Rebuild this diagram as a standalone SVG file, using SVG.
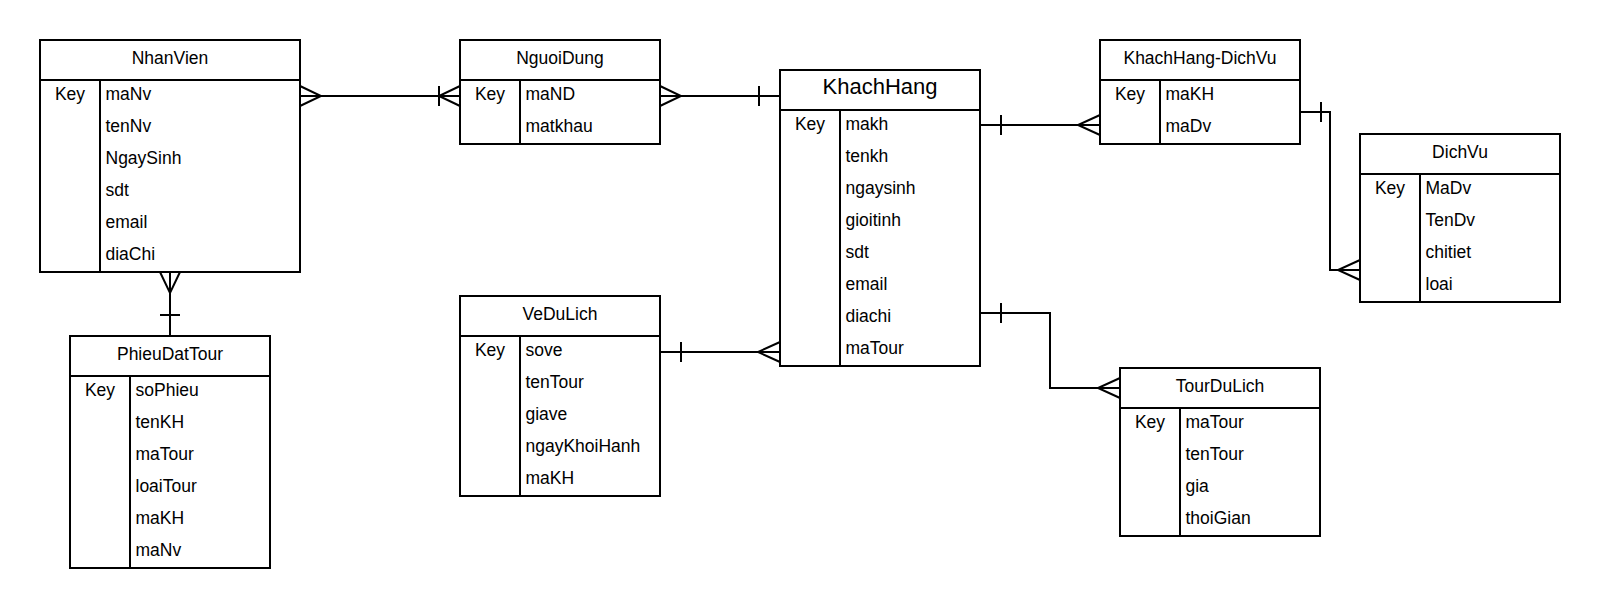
<svg xmlns="http://www.w3.org/2000/svg" width="1600" height="608" viewBox="0 0 1600 608">
<style>
.bg{fill:#fff}
.box{fill:#fff;stroke:#000;stroke-width:2}
.ln{fill:none;stroke:#000;stroke-width:2}
.t{font-family:"Liberation Sans",Arial,sans-serif;font-size:17.5px;fill:#000}
.c{text-anchor:middle}
.big{font-size:22px}
</style>
<rect class="bg" x="0" y="0" width="1600" height="608"/>

<g id="NhanVien">
<rect class="box" x="40" y="40" width="260" height="232"/>
<path class="ln" d="M40,80H300M100,80V272"/>
<text class="t c" x="170" y="64">NhanVien</text>
<text class="t c" x="70" y="100">Key</text>
<text class="t" x="105.5" y="100">maNv</text>
<text class="t" x="105.5" y="132">tenNv</text>
<text class="t" x="105.5" y="164">NgaySinh</text>
<text class="t" x="105.5" y="196">sdt</text>
<text class="t" x="105.5" y="228">email</text>
<text class="t" x="105.5" y="260">diaChi</text>
</g>

<g id="NguoiDung">
<rect class="box" x="460" y="40" width="200" height="104"/>
<path class="ln" d="M460,80H660M520,80V144"/>
<text class="t c" x="560" y="64">NguoiDung</text>
<text class="t c" x="490" y="100">Key</text>
<text class="t" x="525.5" y="100">maND</text>
<text class="t" x="525.5" y="132">matkhau</text>
</g>

<g id="KhachHang">
<rect class="box" x="780" y="70" width="200" height="296"/>
<path class="ln" d="M780,110H980M840,110V366"/>
<text class="t c big" x="880" y="94.3">KhachHang</text>
<text class="t c" x="810" y="130">Key</text>
<text class="t" x="845.5" y="130">makh</text>
<text class="t" x="845.5" y="162">tenkh</text>
<text class="t" x="845.5" y="194">ngaysinh</text>
<text class="t" x="845.5" y="226">gioitinh</text>
<text class="t" x="845.5" y="258">sdt</text>
<text class="t" x="845.5" y="290">email</text>
<text class="t" x="845.5" y="322">diachi</text>
<text class="t" x="845.5" y="354">maTour</text>
</g>

<g id="KhachHang-DichVu">
<rect class="box" x="1100" y="40" width="200" height="104"/>
<path class="ln" d="M1100,80H1300M1160,80V144"/>
<text class="t c" x="1200" y="64">KhachHang-DichVu</text>
<text class="t c" x="1130" y="100">Key</text>
<text class="t" x="1165.5" y="100">maKH</text>
<text class="t" x="1165.5" y="132">maDv</text>
</g>

<g id="DichVu">
<rect class="box" x="1360" y="134" width="200" height="168"/>
<path class="ln" d="M1360,174H1560M1420,174V302"/>
<text class="t c" x="1460" y="158">DichVu</text>
<text class="t c" x="1390" y="194">Key</text>
<text class="t" x="1425.5" y="194">MaDv</text>
<text class="t" x="1425.5" y="226">TenDv</text>
<text class="t" x="1425.5" y="258">chitiet</text>
<text class="t" x="1425.5" y="290">loai</text>
</g>

<g id="PhieuDatTour">
<rect class="box" x="70" y="336" width="200" height="232"/>
<path class="ln" d="M70,376H270M130,376V568"/>
<text class="t c" x="170" y="360">PhieuDatTour</text>
<text class="t c" x="100" y="396">Key</text>
<text class="t" x="135.5" y="396">soPhieu</text>
<text class="t" x="135.5" y="428">tenKH</text>
<text class="t" x="135.5" y="460">maTour</text>
<text class="t" x="135.5" y="492">loaiTour</text>
<text class="t" x="135.5" y="524">maKH</text>
<text class="t" x="135.5" y="556">maNv</text>
</g>

<g id="VeDuLich">
<rect class="box" x="460" y="296" width="200" height="200"/>
<path class="ln" d="M460,336H660M520,336V496"/>
<text class="t c" x="560" y="320">VeDuLich</text>
<text class="t c" x="490" y="356">Key</text>
<text class="t" x="525.5" y="356">sove</text>
<text class="t" x="525.5" y="388">tenTour</text>
<text class="t" x="525.5" y="420">giave</text>
<text class="t" x="525.5" y="452">ngayKhoiHanh</text>
<text class="t" x="525.5" y="484">maKH</text>
</g>

<g id="TourDuLich">
<rect class="box" x="1120" y="368" width="200" height="168"/>
<path class="ln" d="M1120,408H1320M1180,408V536"/>
<text class="t c" x="1220" y="392">TourDuLich</text>
<text class="t c" x="1150" y="428">Key</text>
<text class="t" x="1185.5" y="428">maTour</text>
<text class="t" x="1185.5" y="460">tenTour</text>
<text class="t" x="1185.5" y="492">gia</text>
<text class="t" x="1185.5" y="524">thoiGian</text>
</g>

<g id="connectors">
<!-- NhanVien - NguoiDung -->
<path class="ln" d="M300,96H460"/>
<path class="ln" d="M300,86L321,96L300,106"/>
<path class="ln" d="M439,86V106M460,86L439,96L460,106"/>
<!-- NguoiDung - KhachHang -->
<path class="ln" d="M660,96H780"/>
<path class="ln" d="M660,86L681,96L660,106"/>
<path class="ln" d="M759,86V106"/>
<!-- NhanVien - PhieuDatTour -->
<path class="ln" d="M170,272V336"/>
<path class="ln" d="M160,272L170,293L180,272"/>
<path class="ln" d="M160,315H180"/>
<!-- VeDuLich - KhachHang -->
<path class="ln" d="M660,352H780"/>
<path class="ln" d="M681,342V362"/>
<path class="ln" d="M780,342L758,352L780,362"/>
<!-- KhachHang - KhachHang-DichVu -->
<path class="ln" d="M980,125H1100"/>
<path class="ln" d="M1001,115V135"/>
<path class="ln" d="M1100,115L1078,125L1100,135"/>
<!-- KhachHang-DichVu - DichVu -->
<path class="ln" d="M1300,112H1330V270H1360"/>
<path class="ln" d="M1321,102V122"/>
<path class="ln" d="M1360,260L1338,270L1360,280"/>
<!-- KhachHang - TourDuLich -->
<path class="ln" d="M980,313H1050V388H1120"/>
<path class="ln" d="M1001,303V323"/>
<path class="ln" d="M1120,378L1098,388L1120,398"/>
</g>
</svg>
